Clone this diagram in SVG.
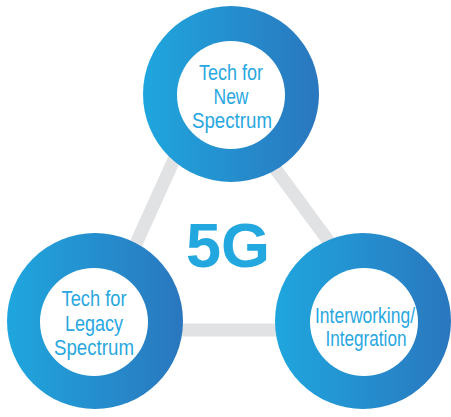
<svg xmlns="http://www.w3.org/2000/svg" width="451" height="417" viewBox="0 0 451 417">
  <defs>
    <linearGradient id="ring" x1="0" y1="0" x2="1" y2="0">
      <stop offset="0" stop-color="#1fa6de"/>
      <stop offset="1" stop-color="#2a77be"/>
    </linearGradient>
    <style>
      .outer { fill: url(#ring); }
      .inner { fill: #ffffff; }
      .lbl { font-family: "Liberation Sans", Arial, sans-serif; font-size: 22px; fill: #29a7e0; text-anchor: middle; }
      .edge { fill: none; stroke: #e1e2e4; stroke-width: 13; stroke-linejoin: round; }
      .big { font-family: "Liberation Sans", Arial, sans-serif; font-weight: bold; font-size: 63px; fill: #22a7df; text-anchor: middle; }
    </style>
  </defs>
  <rect width="451" height="417" fill="#ffffff"/>
  <g id="connectors">
    <polygon class="edge" points="210,80 97,330 394,330"/>
  </g>
  <g id="label-5g">
    <text class="big" x="228" y="267">5G</text>
  </g>
  <g id="node-new-spectrum">
    <circle class="outer" cx="231" cy="94" r="88"/>
    <circle class="inner" cx="231" cy="95" r="54"/>
    <text class="lbl" x="231" y="80" textLength="64" lengthAdjust="spacingAndGlyphs">Tech for</text>
    <text class="lbl" x="231" y="104" textLength="35" lengthAdjust="spacingAndGlyphs">New</text>
    <text class="lbl" x="232" y="128" textLength="80" lengthAdjust="spacingAndGlyphs">Spectrum</text>
  </g>
  <g id="node-legacy-spectrum">
    <circle class="outer" cx="95" cy="321" r="88"/>
    <circle class="inner" cx="94" cy="322" r="54"/>
    <text class="lbl" x="94" y="306" textLength="65" lengthAdjust="spacingAndGlyphs">Tech for</text>
    <text class="lbl" x="94" y="331" textLength="58" lengthAdjust="spacingAndGlyphs">Legacy</text>
    <text class="lbl" x="94" y="355" textLength="80" lengthAdjust="spacingAndGlyphs">Spectrum</text>
  </g>
  <g id="node-interworking">
    <circle class="outer" cx="363" cy="321" r="88"/>
    <circle class="inner" cx="364" cy="322" r="54"/>
    <text class="lbl" x="365" y="323" textLength="100" lengthAdjust="spacingAndGlyphs">Interworking/</text>
    <text class="lbl" x="366" y="346" textLength="81" lengthAdjust="spacingAndGlyphs">Integration</text>
  </g>
</svg>
